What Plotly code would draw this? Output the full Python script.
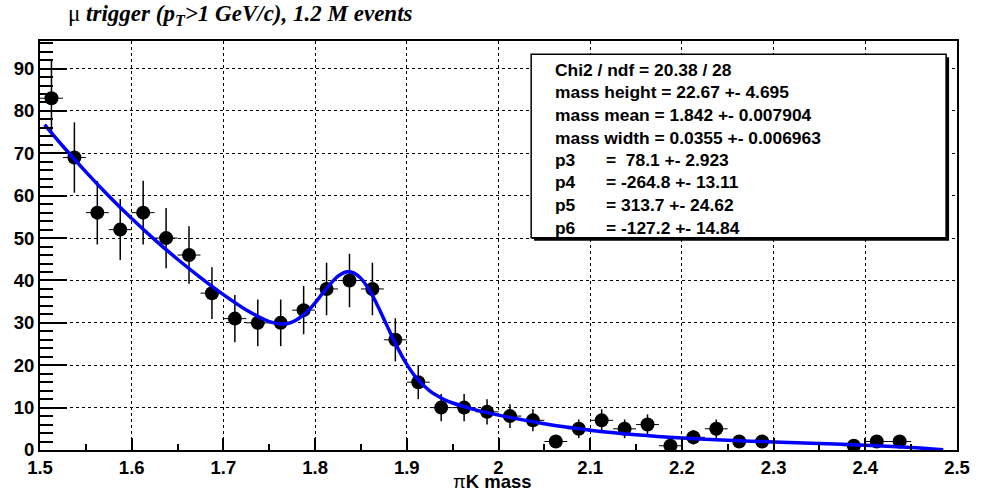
import plotly.graph_objects as go

# ---- data ----
bin_centers = [1.5125, 1.5375, 1.5625, 1.5875, 1.6125, 1.6375, 1.6625, 1.6875, 1.7125, 1.7375,
               1.7625, 1.7875, 1.8125, 1.8375, 1.8625, 1.8875, 1.9125, 1.9375, 1.9625, 1.9875,
               2.0125, 2.0375, 2.0625, 2.0875, 2.1125, 2.1375, 2.1625, 2.1875, 2.2125, 2.2375,
               2.2625, 2.2875, 2.3875, 2.4125, 2.4375]
counts = [83, 69, 56, 52, 56, 50, 46, 37, 31, 30,
          30, 33, 38, 40, 38, 26, 16, 10, 10, 9,
          8, 7, 2, 5, 7, 5, 6, 1, 3, 5,
          2, 2, 1, 2, 2]
count_err = [9.1, 8.3, 7.5, 7.2, 7.5, 7.1, 6.8, 6.1, 5.6, 5.5,
             5.5, 5.7, 6.2, 6.3, 6.2, 5.1, 4.0, 3.2, 3.2, 3.0,
             2.8, 2.6, 1.4, 2.2, 2.6, 2.2, 2.4, 1.0, 1.7, 2.2,
             1.4, 1.4, 1.0, 1.4, 1.4]
half_bin = [0.0125] * len(bin_centers)

fit_x = [1.505, 1.525, 1.55, 1.575, 1.6, 1.625, 1.65, 1.675, 1.7, 1.725, 1.75, 1.765, 1.775,
         1.79, 1.8, 1.81, 1.825, 1.835, 1.842, 1.85, 1.86, 1.867, 1.875, 1.882, 1.89, 1.9,
         1.91, 1.925, 1.94, 1.95, 1.975, 2.0, 2.05, 2.1, 2.15, 2.2, 2.25, 2.3, 2.35, 2.4,
         2.45, 2.485]
fit_y = [76.78, 71.67, 65.63, 59.95, 54.63, 49.65, 45.01, 40.69, 36.67, 33.05, 30.31, 29.75, 30.18,
         32.34, 34.72, 37.47, 41.02, 42.05, 41.81, 40.49, 37.42, 34.57, 30.92, 27.65, 24.09, 20.19,
         17.11, 13.93, 11.98, 11.09, 9.47, 8.23, 6.19, 4.68, 3.59, 2.82, 2.29, 1.90, 1.55, 1.15,
         0.59, 0.07]

x_tick_vals = [1.5, 1.6, 1.7, 1.8, 1.9, 2.0, 2.1, 2.2, 2.3, 2.4, 2.5]
x_tick_text = ["1.5", "1.6", "1.7", "1.8", "1.9", "2", "2.1", "2.2", "2.3", "2.4", "2.5"]
y_tick_vals = [0, 10, 20, 30, 40, 50, 60, 70, 80, 90]
y_tick_text = ["0", "10", "20", "30", "40", "50", "60", "70", "80", "90"]

stats_lines = [
    ("Chi2 / ndf = 20.38 / 28", ""),
    ("mass height = 22.67 +- 4.695", ""),
    ("mass mean = 1.842 +- 0.007904", ""),
    ("mass width = 0.0355 +- 0.006963", ""),
    ("p3", "=  78.1 +- 2.923"),
    ("p4", "= -264.8 +- 13.11"),
    ("p5", "= 313.7 +- 24.62"),
    ("p6", "= -127.2 +- 14.84"),
]

title_text = "μ <b><i>trigger (p<sub>T</sub>>1 GeV/c), 1.2 M events</i></b>"
x_title = "π<b>K mass</b>"

# ---- layout geometry (pixels) ----
W, H = 982, 491
L, R, T, B = 40, 16, 41, 41
PW, PH = W - L - R, H - T - B


def px(xpix):
    return (xpix - L) / PW


def py(ypix):
    return (H - B - ypix) / PH


fig = go.Figure()

fig.add_trace(go.Scatter(
    x=bin_centers, y=counts, mode="markers",
    marker=dict(symbol="circle", size=14, color="black"),
    error_y=dict(type="data", array=count_err, color="black", thickness=1.5, width=0),
    error_x=dict(type="data", array=half_bin, color="black", thickness=1, width=0),
    showlegend=False, hoverinfo="x+y",
))

fig.add_trace(go.Scatter(
    x=fit_x, y=fit_y, mode="lines",
    line=dict(color="#0000ff", width=3.5, shape="spline", smoothing=0.8),
    showlegend=False,
))

axis_font = dict(family="Arial", size=18.5, color="black", weight=700)

fig.update_xaxes(
    range=[1.5, 2.5],
    tickvals=x_tick_vals, ticktext=x_tick_text,
    showline=True, linecolor="black", linewidth=2, mirror=True,
    ticks="inside", ticklen=12, tickwidth=1.5, tickcolor="black",
    minor=dict(dtick=0.05, tick0=1.5, ticks="inside", ticklen=6, tickwidth=1.5, tickcolor="black", showgrid=False),
    showgrid=True, gridcolor="black", gridwidth=1, griddash="dot",
    zeroline=False, tickfont=axis_font,
)
fig.update_yaxes(
    range=[0, 96.5],
    tickvals=y_tick_vals, ticktext=y_tick_text,
    showline=True, linecolor="black", linewidth=2, mirror=True,
    ticks="inside", ticklen=27, tickwidth=1.5, tickcolor="black",
    minor=dict(dtick=2, tick0=0, ticks="inside", ticklen=13, tickwidth=1.5, tickcolor="black", showgrid=False),
    showgrid=True, gridcolor="black", gridwidth=1, griddash="dot",
    zeroline=False, tickfont=axis_font,
)

shapes = []
# stats box shadow
shapes.append(dict(type="rect", xref="paper", yref="paper",
                   x0=px(539), x1=px(958), y0=py(240.7), y1=py(57.3),
                   fillcolor="black", line=dict(width=0), layer="above"))
shapes.append(dict(type="rect", xref="paper", yref="paper",
                   x0=px(536), x1=px(955), y0=py(237.7), y1=py(54.3),
                   fillcolor="white", line=dict(color="black", width=1.5), layer="above"))

annotations = []
stats_font = dict(family="Arial", size=17.4, color="black", weight=700)
line_y = [70, 92, 115, 138, 160, 182, 205, 227.5]
for (a, b), yy in zip(stats_lines, line_y):
    annotations.append(dict(text=a, x=px(558), y=py(yy), xref="paper", yref="paper",
                            xanchor="left", yanchor="middle", showarrow=False, font=stats_font))
    if b:
        annotations.append(dict(text=b, x=px(610), y=py(yy), xref="paper", yref="paper",
                                xanchor="left", yanchor="middle", showarrow=False, font=stats_font))

annotations.append(dict(text=title_text, x=px(66), y=py(15), xref="paper", yref="paper",
                        xanchor="left", yanchor="middle", showarrow=False,
                        font=dict(family="Liberation Serif, Times New Roman, serif", size=23, color="black")))
annotations.append(dict(text=x_title, x=px(455), y=py(482), xref="paper", yref="paper",
                        xanchor="left", yanchor="middle", showarrow=False,
                        font=dict(family="Arial", size=18.5, color="black")))

fig.update_layout(
    width=W, height=H,
    margin=dict(l=L, r=R, t=T, b=B),
    paper_bgcolor="white", plot_bgcolor="white",
    shapes=shapes, annotations=annotations,
    showlegend=False,
)

fig.write_html("out.html")
